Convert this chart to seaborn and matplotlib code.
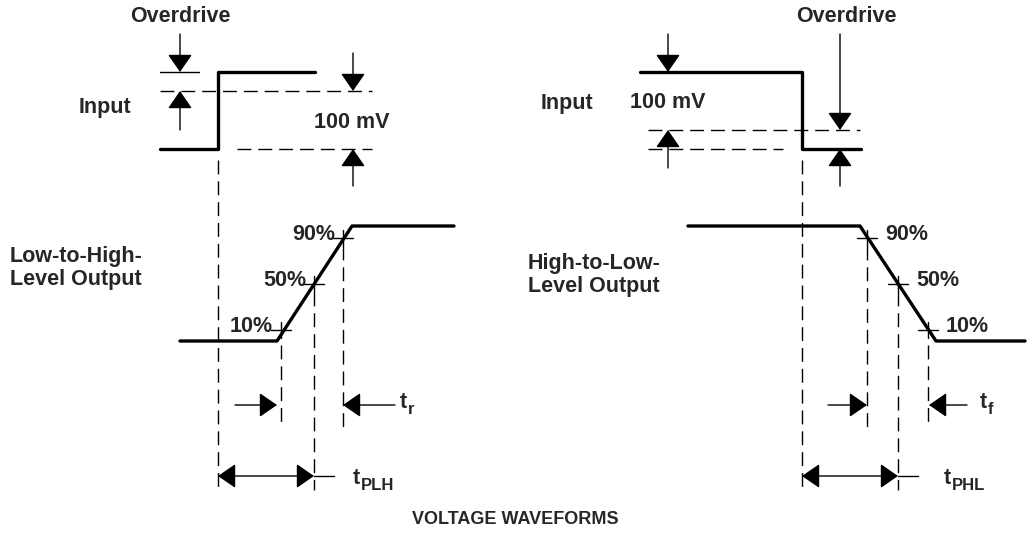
import numpy as np
import pandas as pd
import matplotlib
matplotlib.use("Agg")
import matplotlib.pyplot as plt
import seaborn as sns

# waveform traces (pixel-space diagram coords, y grows downwards)
in_rise_x = [160, 218, 218, 315]
in_rise_y = [149, 149, 72, 72]
in_fall_x = [640, 802, 802, 861]
in_fall_y = [72, 72, 149, 149]
out_rise_x = [180, 277, 352, 454]
out_rise_y = [341, 341, 226, 226]
out_fall_x = [688, 860, 936, 1025]
out_fall_y = [226, 226, 341, 341]

# 10/50/90 % crossing points on the output ramps
pct_labels = ["10%", "50%", "90%"]
pct_y = [330, 284, 238]
rise_pct_x = [281, 314, 343]
fall_pct_x = [928, 898, 867]

sns.set_theme(style="white")
plt.rcParams["font.family"] = ["Liberation Sans", "DejaVu Sans"]
plt.rcParams["font.weight"] = "bold"

fig = plt.figure(figsize=(10.29, 5.39), dpi=100)
ax = fig.add_axes([0, 0, 1, 1])

traces = pd.concat([
    pd.DataFrame({"x": in_rise_x, "y": in_rise_y, "trace": "in_rise"}),
    pd.DataFrame({"x": in_fall_x, "y": in_fall_y, "trace": "in_fall"}),
    pd.DataFrame({"x": out_rise_x, "y": out_rise_y, "trace": "out_rise"}),
    pd.DataFrame({"x": out_fall_x, "y": out_fall_y, "trace": "out_fall"}),
], ignore_index=True)
sns.lineplot(data=traces, x="x", y="y", units="trace", estimator=None, sort=False,
             color="black", lw=2.4, ax=ax, legend=False)

dash = dict(color="black", lw=1.0, linestyle=(0, (10, 5)))
thin = dict(color="black", lw=1.0)

# dashed reference lines
ax.plot([160, 372], [91, 91], **dash)
ax.plot([237, 372], [149, 149], **dash)
ax.plot([648, 860], [130, 130], **dash)
ax.plot([648, 783], [149, 149], **dash)
for x0, y0, y1 in [(218, 160, 492), (281, 345, 428), (314, 292, 490), (343, 246, 428),
                   (802, 160, 492), (867, 246, 428), (898, 292, 490), (928, 345, 428)]:
    ax.plot([x0, x0], [y0, y1], **dash)

# cross ticks at % levels
for xs in (rise_pct_x, fall_pct_x):
    for x0, y0 in zip(xs, pct_y):
        ax.plot([x0 - 10, x0 + 10], [y0, y0], **thin)
        ax.plot([x0, x0], [y0 - 8, y0 + 8], **thin)

ax.plot([160, 199], [72, 72], **thin)
ax.plot([314, 334], [476, 476], **thin)
ax.plot([898, 918], [476, 476], **thin)


def arrow(tail, tip, style="-|>"):
    ax.annotate("", xy=tip, xytext=tail,
                arrowprops=dict(arrowstyle=style + ",head_length=0.55,head_width=0.38",
                                color="black", lw=1.0, shrinkA=0, shrinkB=0,
                                mutation_scale=20))


arrow((180, 34), (180, 72))
arrow((180, 130), (180, 91))
arrow((353, 53), (353, 91))
arrow((353, 186), (353, 149))
arrow((668, 34), (668, 72))
arrow((668, 168), (668, 130))
arrow((840, 34), (840, 130))
arrow((840, 186), (840, 149))
arrow((235, 405), (277, 405))
arrow((395, 405), (343, 405))
arrow((828, 405), (867, 405))
arrow((967, 405), (929, 405))
arrow((218, 476), (314, 476), "<|-|>")
arrow((802, 476), (898, 476), "<|-|>")

fs = 15.5
kw = dict(fontsize=fs, fontweight="bold")
ax.text(180, 16, "Overdrive", ha="center", va="center", **kw)
ax.text(846, 16, "Overdrive", ha="center", va="center", **kw)
ax.text(105, 107, "Input", ha="center", va="center", **kw)
ax.text(567, 103, "Input", ha="center", va="center", **kw)
ax.text(352, 122, "100 mV", ha="center", va="center", **kw)
ax.text(668, 103, "100 mV", ha="center", va="center", **kw)
ax.text(10, 268, "Low-to-High-\nLevel Output", ha="left", va="center",
        linespacing=1.1, **kw)
ax.text(528, 275, "High-to-Low-\nLevel Output", ha="left", va="center",
        linespacing=1.1, **kw)
for lab, x0, y0 in zip(pct_labels, rise_pct_x, pct_y):
    ax.text(x0 - 8, y0 - 3, lab, ha="right", va="center", **kw)
for lab, x0, y0 in zip(pct_labels, fall_pct_x, pct_y):
    ax.text(x0 + 18, y0 - 3, lab, ha="left", va="center", **kw)

# time labels: "t" with a bold subscript
for x0, y0, sub in [(400, 402, "r"), (980, 402, "f"), (353, 478, "PLH"), (944, 478, "PHL")]:
    ax.text(x0, y0, "t", ha="left", va="center", **kw)
    ax.text(x0 + 8, y0 + 7, sub, ha="left", va="center", fontsize=12, fontweight="bold")

ax.text(515, 520, "VOLTAGE WAVEFORMS", ha="center", va="center", fontsize=13,
        fontweight="bold")

ax.set_xlim(0, 1029)
ax.set_ylim(539, 0)
ax.axis("off")
fig.savefig("out.png", dpi=100)
